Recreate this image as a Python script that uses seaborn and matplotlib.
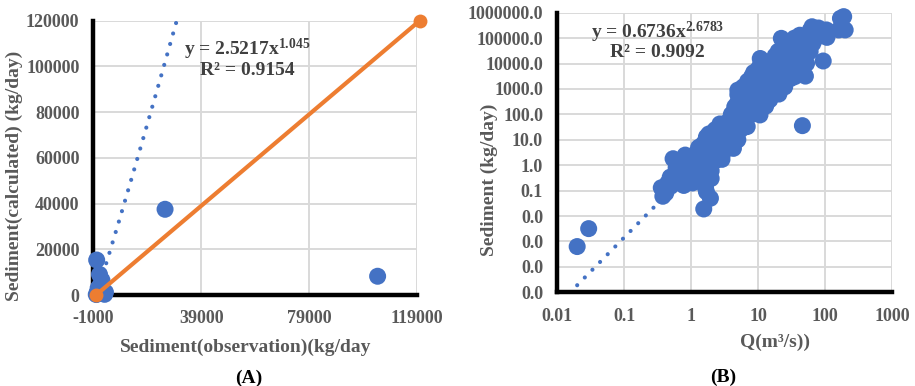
import numpy as np
import pandas as pd
import matplotlib
matplotlib.use("Agg")
import matplotlib.pyplot as plt
import seaborn as sns

# ---------------- data: panel A ----------------
obs_A = [250, 1300, 2200, 3500, 800, 400, 1500, 3200, 25600, 104400, 100, 600]
calc_A = [15300, 9000, 6500, 1200, 3000, 500, 4000, 300, 37500, 8200, 200, 1500]
one_to_one_x = [0, 120000]
one_to_one_y = [0, 120000]
coef_A, expo_A = 2.5217, 1.045
r2_A = 0.9154
xticks_A = [-1000, 39000, 79000, 119000]
yticks_A = [0, 20000, 40000, 60000, 80000, 100000, 120000]

# ---------------- data: panel B ----------------
q_B = [0.020, 0.0297, 0.36, 0.38, 0.45, 0.49, 0.54, 0.55, 0.6, 0.62, 0.69, 0.72, 0.78, 0.82,
       0.85, 0.9, 0.95, 1.0, 1.05, 1.1, 1.15, 1.2, 1.27, 1.3, 1.35, 1.4, 1.45, 1.5, 1.55, 1.55,
       1.6, 1.65, 1.65, 1.7, 1.75, 1.8, 1.85, 1.9, 1.95, 1.95, 2.0, 2.1, 2.2, 2.3, 2.4, 2.5,
       2.6, 2.7, 2.8, 2.9, 3.0, 3.1, 3.2, 3.4, 3.5, 3.7, 3.9, 4.0, 4.3, 4.5, 4.7, 4.9, 4.9,
       5.0, 5.2, 5.5, 5.5, 5.8, 6.1, 6.3, 6.5, 6.9, 6.9, 7.0, 7.3, 7.7, 7.8, 8.0, 8.3, 8.6,
       8.8, 9.2, 9.5, 9.8, 10.0, 10.5, 10.7, 10.8, 11.0, 11.5, 12.0, 12.5, 13.0, 13.0, 13.6,
       13.6, 14.0, 15.0, 15.0, 15.5, 16.0, 17.3, 18.0, 19.0, 20.0, 20.5, 21.5, 22.3, 23.0,
       24.5, 24.5, 26.0, 28.0, 30.0, 31.0, 33.0, 35.0, 38.0, 38.0, 40.0, 42.0, 44.0, 46.0,
       48.0, 51.0, 51.0, 55.0, 60.0, 64.0, 66.0, 70.0, 80.0, 94.0, 100.0, 105.0, 107.0,
       160.0, 170.0, 190.0, 200.0,
       1.0, 1.2, 1.4, 1.6, 1.8, 2.0, 2.2, 2.5, 2.8, 3.0, 3.3, 3.6, 4.0, 4.2, 4.5, 5.0, 5.5,
       6.0, 6.5, 7.0, 7.5, 8.0, 8.5, 9.0, 10.0, 11.0, 12.0, 13.0, 14.0, 16.0, 18.0, 20.0,
       22.0, 25.0, 28.0, 30.0, 33.0, 36.0, 40.0, 45.0, 50.0, 55.0, 60.0,
       5.5, 6.0, 7.0, 8.0, 9.5, 11.0, 12.0, 43.0, 47.0, 53.0, 100.0,
       2.0, 2.0, 2.3, 2.3, 2.6, 3.0, 3.0, 3.5, 3.5, 4.0, 4.0, 4.5, 4.5, 5.0, 5.0, 5.0,
       5.5, 5.5, 6.0, 6.0, 6.5, 6.5, 7.0, 7.0, 8.0, 8.0, 9.0, 9.0, 10.0, 10.0, 11.0, 11.0,
       12.0, 12.0, 14.0, 14.0, 16.0, 16.0, 18.0, 18.0, 20.0, 20.0, 25.0, 25.0, 30.0, 30.0,
       35.0, 35.0, 40.0, 45.0, 50.0, 60.0, 60.0, 70.0, 80.0,
       0.4, 0.42, 0.5, 0.6, 0.6, 0.7, 0.75, 0.8, 0.9, 0.9, 1.0, 1.0, 1.1, 1.2, 1.3, 1.5,
       1.5, 1.7, 1.7]
sed_B = [0.00063, 0.0032, 0.13, 0.06, 0.2, 0.34, 1.8, 0.3, 0.5, 0.45, 0.22, 0.6, 0.16, 2.5,
         0.9, 0.7, 0.8, 1.2, 0.2, 0.6, 1.5, 3.0, 2.1, 0.9, 4.5, 1.8, 6.0, 2.5, 0.019, 0.84,
         8.0, 0.126, 0.35, 13, 3.5, 5.5, 17, 2.0, 0.05, 1.1, 9, 4, 3.9, 12, 13, 7,
         20, 42, 10, 1.7, 25, 5.6, 15, 35, 13, 22, 60, 30, 4.6, 45, 80, 18, 270,
         120, 60, 580, 200, 100, 150, 400, 250, 33, 1400, 700, 300, 95, 900, 500, 1800, 4400,
         650, 375, 1100, 210, 2500, 800, 95, 15800, 1500, 1230, 3500, 600, 210, 2000, 4800,
         900, 1200, 10000, 375, 3000, 2200, 1900, 5000, 1500, 7000, 630, 14000, 98000, 4000,
         3000, 7500, 12000, 6000, 9000, 14000, 20000, 8000, 10000, 62000, 30000, 130000, 25000, 36,
         15000, 3200, 22000, 45000, 80000, 280000, 62000, 150000, 120000, 12600, 180000, 210000, 107000,
         210000, 600000, 700000, 210000,
         0.5, 1.0, 0.7, 2.0, 1.2, 2.5, 6, 3, 6, 9, 8, 10, 15, 25, 12, 30, 50,
         70, 120, 180, 250, 200, 350, 600, 400, 700, 1000, 1500, 2500, 5000, 3000, 2500,
         9000, 15000, 25000, 4000, 7000, 40000, 50000, 70000, 100000, 90000, 120000,
         800, 1200, 2000, 3000, 5000, 8000, 12000, 120000, 20000, 10000, 160000,
         0.3, 0.6, 1.5, 25, 2.5, 3, 40, 6, 50, 8, 100, 20, 200, 10, 600, 900,
         25, 300, 40, 800, 60, 500, 90, 1500, 150, 2500, 250, 3500, 150, 6000, 300, 10000,
         200, 5000, 500, 8000, 800, 12000, 1000, 20000, 2000, 30000, 1200, 40000, 2500, 60000,
         3000, 100000, 5000, 8000, 40000, 30000, 200000, 90000, 250000,
         0.1, 0.08, 0.15, 0.25, 0.8, 1.0, 0.35, 0.4, 1.5, 0.25, 2, 0.3, 1.0, 0.4, 5, 0.5,
         1.2, 0.7, 0.09]
coef_B, expo_B = 0.6736, 2.6783
r2_B = 0.9092
xticks_B = [0.01, 0.1, 1, 10, 100, 1000]
xticklabels_B = ["0.01", "0.1", "1", "10", "100", "1000"]
yticks_B = [1e-5, 1e-4, 1e-3, 1e-2, 1e-1, 1, 10, 100, 1000, 10000, 100000, 1000000]

BLUE = "#4472C4"
ORANGE = "#ED7D31"
TXT = "#595959"
EQ = "#404040"
GRID = "#d9d9d9"

sns.set_theme(style="white")
plt.rcParams["font.family"] = ["Liberation Serif", "DejaVu Serif"]
plt.rcParams["font.weight"] = "bold"
plt.rcParams["mathtext.fontset"] = "custom"
plt.rcParams["mathtext.rm"] = "Liberation Serif:bold"
plt.rcParams["mathtext.bf"] = "Liberation Serif:bold"
plt.rcParams["mathtext.it"] = "Liberation Serif:bold"

W, H = 915, 386
fig = plt.figure(figsize=(W / 100, H / 100), dpi=100)
axA = fig.add_axes([93.3 / W, 1 - 295 / H, (417 - 93.3) / W, (295 - 20.7) / H])
axB = fig.add_axes([557 / W, 1 - 292.3 / H, (892 - 557) / W, (292.3 - 12.7) / H])

dfA = pd.DataFrame({"obs": obs_A, "calc": calc_A})
dfB = pd.DataFrame({"q": q_B, "sed": sed_B})

# ---------- Panel A ----------
xmaxA = (max(yticks_A) / coef_A) ** (1 / expo_A)
xs = np.linspace(min(obs_A), xmaxA, 300)
trendA = pd.DataFrame({"x": xs, "y": coef_A * xs ** expo_A})
sns.scatterplot(data=dfA, x="obs", y="calc", ax=axA, s=150, color=BLUE,
                edgecolor="none", zorder=3, clip_on=False)
sns.lineplot(data=trendA, x="x", y="y", ax=axA, color=BLUE, lw=3.0,
             linestyle=(0, (0.01, 2.6)), dash_capstyle="round", zorder=4)
lineA = pd.DataFrame({"x": one_to_one_x, "y": one_to_one_y})
sns.lineplot(data=lineA, x="x", y="y", ax=axA, color=ORANGE, lw=3.0, marker="o",
             markersize=10, markeredgewidth=0, zorder=5, clip_on=False)

axA.set_xlim(xticks_A[0], xticks_A[-1])
axA.set_ylim(yticks_A[0], yticks_A[-1])
axA.set_xticks(xticks_A)
axA.set_yticks(yticks_A)
axA.set_xticklabels([str(v) for v in xticks_A])
axA.set_yticklabels([str(v) for v in yticks_A])
axA.set_xlabel("")
axA.set_ylabel("")
axA.text(0.476, 0.895, "y = %.4fx$^{%s}$" % (coef_A, "1.045"), transform=axA.transAxes,
         ha="center", va="center", fontsize=14, color=EQ, fontweight="bold")
axA.text(0.476, 0.82, "R² = %.4f" % r2_A, transform=axA.transAxes,
         ha="center", va="center", fontsize=14, color=EQ, fontweight="bold")

# ---------- Panel B ----------
qs = np.geomspace(min(q_B), max(q_B), 400)
trendB = pd.DataFrame({"x": qs, "y": coef_B * qs ** expo_B})
sns.lineplot(data=trendB, x="x", y="y", ax=axB, color=BLUE, lw=3.0,
             linestyle=(0, (0.01, 2.6)), dash_capstyle="round", zorder=2)
sns.scatterplot(data=dfB, x="q", y="sed", ax=axB, s=150, color=BLUE,
                edgecolor="none", zorder=3, clip_on=False)
axB.set_xscale("log")
axB.set_yscale("log")
axB.set_xlim(xticks_B[0], xticks_B[-1])
axB.set_ylim(yticks_B[0], yticks_B[-1])
axB.set_xticks(xticks_B)
axB.set_xticklabels(xticklabels_B)
axB.set_yticks(yticks_B)
axB.set_yticklabels(["%.1f" % v for v in yticks_B])
axB.minorticks_off()
axB.set_xlabel("")
axB.set_ylabel("")
axB.text(0.30, 0.93, "y = %.4fx$^{%s}$" % (coef_B, "2.6783"), transform=axB.transAxes,
         ha="center", va="center", fontsize=14, color=EQ, fontweight="bold")
axB.text(0.30, 0.857, "R² = %.4f" % r2_B, transform=axB.transAxes,
         ha="center", va="center", fontsize=14, color=EQ, fontweight="bold")

for ax in (axA, axB):
    ax.set_facecolor("white")
    ax.grid(True, color=GRID, lw=1.4, zorder=0)
    ax.set_axisbelow(True)
    for side in ("top", "right"):
        ax.spines[side].set_visible(False)
    for side in ("left", "bottom"):
        ax.spines[side].set_color("black")
        ax.spines[side].set_linewidth(3.2)
        ax.spines[side].set_zorder(2.5)
    ax.tick_params(axis="both", length=0, labelsize=13, labelcolor=TXT)
    ax.tick_params(axis="x", pad=11)
    ax.tick_params(axis="y", pad=10)
    for lab in ax.get_xticklabels() + ax.get_yticklabels():
        lab.set_fontweight("bold")

# axis labels
fig.text(246 / W, 1 - 347 / H, "Sediment(observation)(kg/day", ha="center", va="center",
         fontsize=14, color=TXT, fontweight="bold")
fig.text(14 / W, 1 - 176 / H, "Sediment(calculated) (kg/day)", ha="center", va="center",
         rotation=90, fontsize=14, color=TXT, fontweight="bold")
fig.text(775 / W, 1 - 342 / H, "Q(m³/s))", ha="center", va="center",
         fontsize=14, color=TXT, fontweight="bold")
fig.text(489 / W, 1 - 180 / H, "Sediment (kg/day)", ha="center", va="center",
         rotation=90, fontsize=14, color=TXT, fontweight="bold")
fig.text(249 / W, 1 - 378 / H, "(A)", ha="center", va="center",
         fontsize=14, color="black", fontweight="bold")
fig.text(723 / W, 1 - 377 / H, "(B)", ha="center", va="center",
         fontsize=14, color="black", fontweight="bold")

fig.savefig("out.png", dpi=100, facecolor="white")
